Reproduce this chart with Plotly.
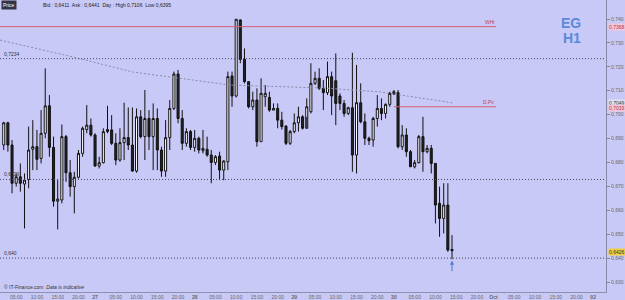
import plotly.graph_objects as go

# hourly candles, x = hours since 26 Sep 00:00
opens = [0.6873,0.6966,0.6873,0.6713,0.6740,0.6710,0.6729,0.6855,0.6866,0.6817,
 0.6922,0.7037,0.6863,0.6638,0.6643,0.6908,0.6757,0.6699,0.6738,0.6838,
 0.6938,0.6956,0.6915,0.6785,0.6799,0.6929,0.6936,0.6880,0.6810,0.6883,
 0.6904,0.6873,0.6764,0.6991,0.6908,0.6984,0.6908,0.6984,0.6852,0.6764,
 0.6904,0.7026,0.7170,0.6984,0.6880,0.6929,0.6863,0.6901,0.6849,0.6855,
 0.6831,0.6800,0.6827,0.6768,0.6803,0.7162,0.7078,0.7396,0.7231,0.7138,
 0.7033,0.7061,0.6887,0.7075,0.7072,0.7019,0.7026,0.6977,0.6952,0.6880,
 0.6929,0.6966,0.6991,0.6943,0.7012,0.7131,0.7152,0.7110,0.7092,0.7159,
 0.7142,0.7078,0.7047,0.7005,0.7029,0.6831,0.7050,0.6970,0.6901,0.6894,
 0.6984,0.7026,0.7005,0.7043,0.7087,0.7092,0.6866,0.6915,0.6845,0.6782,
 0.6799,0.6908,0.6845,0.6859,0.6796,0.6629,0.6566,0.6622,0.6436]
highs = [0.6970,0.6970,0.6894,0.6754,0.6796,0.6754,0.6950,0.6977,0.6936,0.7019,
 0.7194,0.7082,0.6908,0.6726,0.6959,0.6915,0.6810,0.6761,0.6852,0.6950,
 0.7040,0.6984,0.6922,0.6824,0.6943,0.7037,0.6998,0.6922,0.6943,0.7050,
 0.7030,0.7030,0.7026,0.7019,0.7103,0.7019,0.7047,0.7026,0.6866,0.6977,
 0.7061,0.7180,0.7187,0.7019,0.6943,0.6936,0.6936,0.6908,0.6936,0.6908,
 0.6852,0.6831,0.6845,0.6810,0.7180,0.7180,0.7399,0.7399,0.7277,0.7138,
 0.7096,0.7110,0.7152,0.7124,0.7096,0.7047,0.7047,0.7012,0.6956,0.6936,
 0.7005,0.7033,0.6998,0.7068,0.7215,0.7180,0.7194,0.7145,0.7222,0.7180,
 0.7256,0.7089,0.7061,0.7033,0.7259,0.7208,0.7131,0.7005,0.6908,0.6991,
 0.7082,0.7068,0.7047,0.7096,0.7103,0.7103,0.6956,0.6943,0.6852,0.6810,
 0.6915,0.6991,0.6873,0.6873,0.6796,0.6699,0.6713,0.6713,0.6496]
lows = [0.6852,0.6845,0.6671,0.6699,0.6678,0.6524,0.6692,0.6768,0.6768,0.6796,
 0.6901,0.6824,0.6615,0.6520,0.6629,0.6719,0.6657,0.6587,0.6733,0.6824,
 0.6922,0.6908,0.6782,0.6775,0.6796,0.6922,0.6873,0.6789,0.6803,0.6810,
 0.6852,0.6761,0.6757,0.6901,0.6810,0.6852,0.6768,0.6768,0.6740,0.6740,
 0.6852,0.7019,0.6964,0.6852,0.6866,0.6852,0.6845,0.6838,0.6838,0.6824,
 0.6713,0.6789,0.6726,0.6726,0.6768,0.7033,0.7072,0.7215,0.7131,0.7026,
 0.7019,0.6866,0.6887,0.7033,0.7012,0.7019,0.6943,0.6938,0.6873,0.6873,
 0.6922,0.6929,0.6938,0.6991,0.7005,0.7124,0.7103,0.7019,0.7082,0.6998,
 0.6956,0.7019,0.6991,0.6998,0.6761,0.6754,0.6964,0.6873,0.6873,0.6866,
 0.6950,0.6977,0.6984,0.7033,0.7082,0.6859,0.6852,0.6824,0.6782,0.6775,
 0.6796,0.6761,0.6838,0.6754,0.6545,0.6489,0.6503,0.6426,0.6395]
closes = [0.6966,0.6873,0.6713,0.6740,0.6713,0.6726,0.6852,0.6866,0.6813,0.6922,
 0.7037,0.6863,0.6638,0.6647,0.6908,0.6757,0.6699,0.6738,0.6838,0.6943,
 0.6956,0.6915,0.6785,0.6799,0.6929,0.6938,0.6880,0.6810,0.6883,0.6904,
 0.6873,0.6764,0.6991,0.6908,0.6984,0.6908,0.6984,0.6852,0.6764,0.6904,
 0.7026,0.7170,0.6984,0.6880,0.6929,0.6863,0.6901,0.6852,0.6859,0.6831,
 0.6800,0.6824,0.6768,0.6806,0.7159,0.7078,0.7399,0.7231,0.7138,0.7033,
 0.7061,0.6887,0.7089,0.7089,0.7019,0.7026,0.6977,0.6950,0.6880,0.6929,
 0.6966,0.6991,0.6943,0.7033,0.7131,0.7152,0.7110,0.7092,0.7159,0.7078,
 0.7047,0.7047,0.7005,0.7029,0.6831,0.7050,0.6970,0.6901,0.6891,0.6984,
 0.7026,0.7005,0.7043,0.7089,0.7096,0.6866,0.6915,0.6845,0.6782,0.6799,
 0.6908,0.6845,0.6859,0.6796,0.6622,0.6566,0.6622,0.6434,0.6431]
first_hour = 2
hours = [first_hour + i for i in range(len(opens))]

# moving average (read at a few points)
ma_hours = [1.1, 19.7, 33.2, 56.5, 79.4, 92.7, 110.3]
ma_vals = [0.7312, 0.7237, 0.7178, 0.7124, 0.7111, 0.7095, 0.7049]

# levels
whi_level = 0.7368
dpv_level = 0.7033
dotted_levels = [0.7234, 0.6729, 0.6400]
dotted_labels = ["0,7234", "0,6729", "0,640"]
last_price = 0.6426

# axes labels
y_ticks = [0.740, 0.730, 0.720, 0.710, 0.700, 0.690, 0.680, 0.670, 0.660, 0.650, 0.640, 0.630]
y_ticktext = ["0,740", "0,730", "0,720", "0,710", "0,700", "0,690", "0,680", "0,670", "0,660", "0,650", "0,640", "0,630"]
x_ticks = [5, 10, 15, 20, 24, 29, 34, 39, 44, 48, 53, 58, 63, 68, 72, 77, 82, 87, 92, 96,
           101, 106, 111, 116, 120, 125, 130, 135, 140, 144]
x_ticktext = ["05:00", "10:00", "15:00", "20:00", "<b>27</b>", "05:00", "10:00", "15:00", "20:00", "<b>28</b>",
              "05:00", "10:00", "15:00", "20:00", "<b>29</b>", "05:00", "10:00", "15:00", "20:00", "<b>30</b>",
              "05:00", "10:00", "15:00", "20:00", "<b>Oct</b>", "05:00", "10:00", "15:00", "20:00", "<b>02</b>"]

BG = "#c9c9f7"
FONT = "Liberation Sans, Arial, sans-serif"

fig = go.Figure()
fig.add_trace(go.Scatter(x=ma_hours, y=ma_vals, mode="lines",
                         line=dict(color="#8a8aa8", width=1, dash="2px,2px"), hoverinfo="skip"))
fig.add_trace(go.Candlestick(
    x=hours, open=opens, high=highs, low=lows, close=closes,
    increasing=dict(fillcolor="#ffffff", line=dict(color="#111111", width=1)),
    decreasing=dict(fillcolor="#222222", line=dict(color="#111111", width=1)),
    whiskerwidth=0))

shapes = []
for lv in dotted_levels:
    shapes.append(dict(type="line", xref="paper", x0=0, x1=0.9696, yref="y", y0=lv, y1=lv,
                       line=dict(color="#444455", width=1, dash="1px,2px")))
shapes.append(dict(type="line", xref="x", x0=1.1, x1=120.6, yref="y", y0=whi_level, y1=whi_level,
                   line=dict(color="#d06070", width=1)))
shapes.append(dict(type="line", xref="x", x0=96, x1=120.6, yref="y", y0=dpv_level, y1=dpv_level,
                   line=dict(color="#d06070", width=1)))

ann = []
for lv, lab in zip(dotted_levels, dotted_labels):
    ann.append(dict(xref="paper", x=0.003, yref="y", y=lv, text=lab, showarrow=False,
                    xanchor="left", yanchor="bottom", font=dict(size=5, color="#333", family=FONT)))
ann.append(dict(xref="x", x=120.6, yref="y", y=whi_level, text="WHi", showarrow=False,
                xanchor="right", yanchor="bottom", font=dict(size=5, color="#c04050", family=FONT)))
ann.append(dict(xref="x", x=120.6, yref="y", y=dpv_level, text="D.Pv", showarrow=False,
                xanchor="right", yanchor="bottom", font=dict(size=5, color="#c04050", family=FONT)))
# axis value boxes
ann.append(dict(xref="paper", x=0.972, yref="y", y=whi_level, text="0,7368", showarrow=False,
                xanchor="left", font=dict(size=5, color="#c03040", family=FONT), bgcolor="#f0c8d8", borderpad=0))
ann.append(dict(xref="paper", x=0.972, yref="y", y=ma_vals[-1], text="0,7049", showarrow=False,
                xanchor="left", font=dict(size=5, color="#333", family=FONT), bgcolor="#e0e0f0", borderpad=0))
ann.append(dict(xref="paper", x=0.972, yref="y", y=dpv_level - 0.0006, text="0,7033", showarrow=False,
                xanchor="left", font=dict(size=5, color="#c03040", family=FONT), bgcolor="#f0c8d8", borderpad=0))
ann.append(dict(xref="paper", x=0.972, yref="y", y=last_price, text="0,6426", showarrow=False,
                xanchor="left", font=dict(size=5, color="#333", family=FONT), bgcolor="#f0d040", borderpad=0))
# watermark
ann.append(dict(xref="paper", x=0.933, yref="paper", y=0.955, text="<b>EG</b>", showarrow=False,
                font=dict(size=14, color="#5a8ad8", family=FONT)))
ann.append(dict(xref="paper", x=0.933, yref="paper", y=0.905, text="<b>H1</b>", showarrow=False,
                font=dict(size=14, color="#5a8ad8", family=FONT)))
# header
ann.append(dict(xref="paper", x=0.002, yref="paper", y=1.0, text="Price", showarrow=False,
                xanchor="left", yanchor="top", font=dict(size=5, color="#ffffff", family=FONT),
                bgcolor="#333344", borderpad=1))
ann.append(dict(xref="paper", x=0.065, yref="paper", y=1.0, text="Bid : 0,6411  Ask : 0,6441  Day : High 0,7106  Low 0,6395",
                showarrow=False, xanchor="left", yanchor="top", font=dict(size=5, color="#222", family=FONT)))
ann.append(dict(xref="paper", x=0.003, yref="paper", y=0.0, text="© IT-Finance.com  <i>Data is indicative</i>",
                showarrow=False, xanchor="left", yanchor="bottom", font=dict(size=5, color="#333", family=FONT)))
# arrow below last candle
ann.append(dict(xref="x", x=hours[-1], yref="y", y=lows[-1] - 0.0006, text="", showarrow=True,
                ax=0, ay=12, arrowcolor="#4a7ad0", arrowhead=2, arrowsize=0.8, arrowwidth=1))

fig.update_layout(
    width=625, height=300, margin=dict(l=0, r=0, t=0, b=8),
    paper_bgcolor=BG, plot_bgcolor=BG, showlegend=False,
    shapes=shapes, annotations=ann,
    font=dict(family=FONT, size=6, color="#666"),
    xaxis=dict(domain=[0, 0.9696], range=[1.1, 147.1], tickvals=x_ticks, ticktext=x_ticktext,
               showgrid=False, zeroline=False, rangeslider=dict(visible=False),
               showline=True, linecolor="#9090b0", ticks="", tickfont=dict(size=5, color="#666")),
    yaxis=dict(side="right", range=[0.62582, 0.74795], tickvals=y_ticks, ticktext=y_ticktext,
               showgrid=False, zeroline=False, showline=True, linecolor="#8888aa",
               ticks="outside", ticklen=3, tickcolor="#888", tickfont=dict(size=5, color="#666")),
)
fig.write_html("out.html")
